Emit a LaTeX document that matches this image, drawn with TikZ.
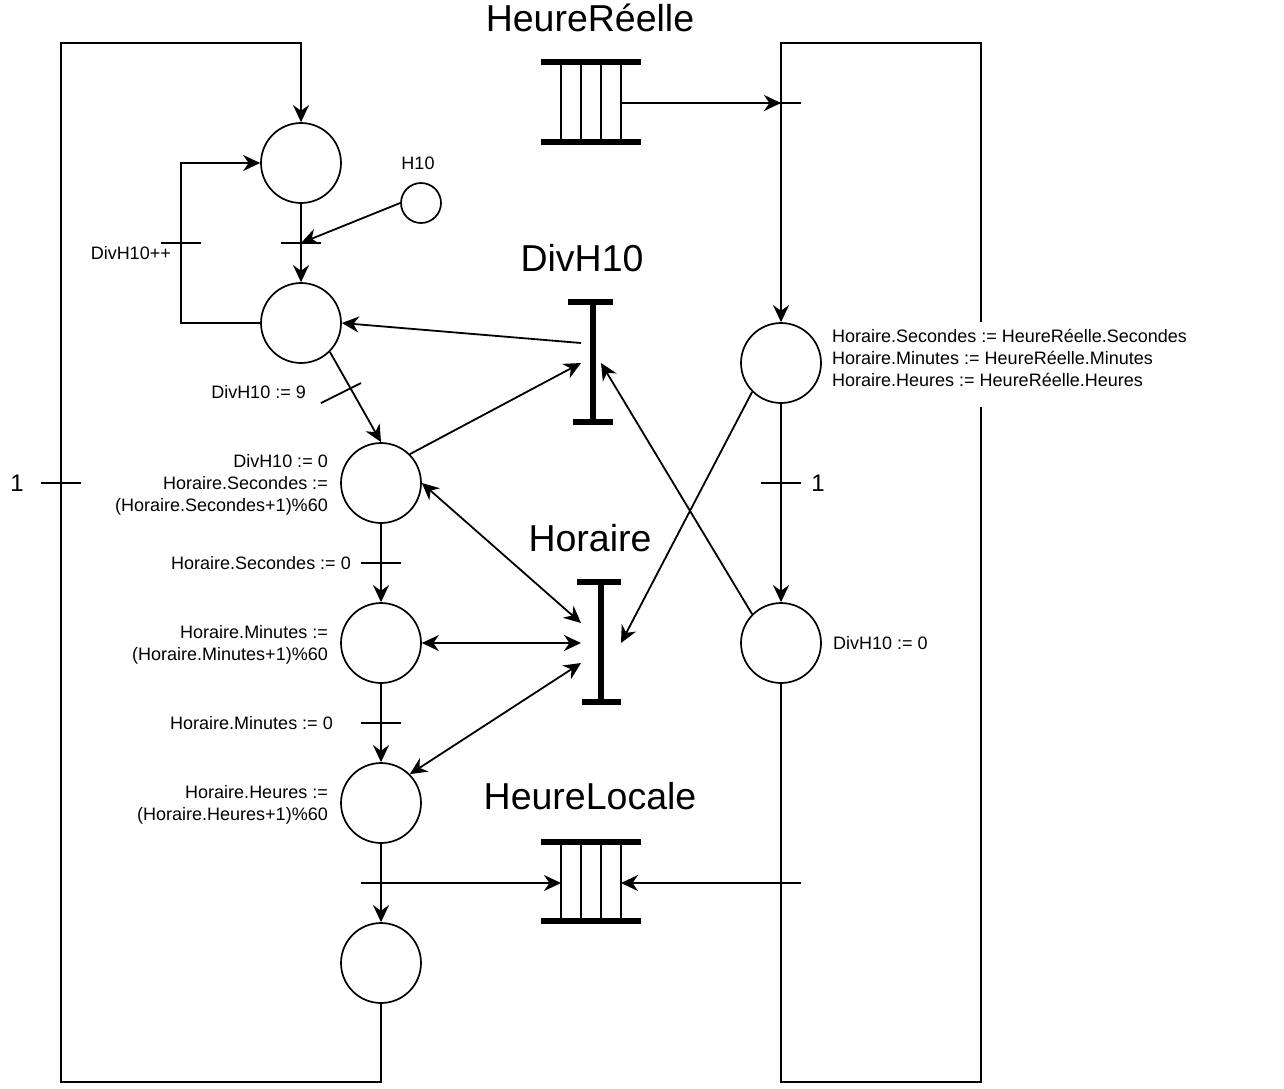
\documentclass[tikz,border=0pt]{standalone}
\usepackage{fontspec}
\setmainfont{Liberation Sans}
\usetikzlibrary{arrows.meta}
\begin{document}
\begin{tikzpicture}[x=1pt,y=-1pt,
  place/.style={circle, draw, line width=1.7pt, minimum size=80pt, inner sep=0pt},
  smallplace/.style={circle, draw, line width=1.7pt, minimum size=40pt, inner sep=0pt},
  ln/.style={line width=1.8pt},
  tip/.tip={Stealth[length=17pt,width=16pt,inset=5.5pt]},
  arr/.style={ln, -tip},
  barr/.style={ln, tip-tip},
  heavy/.style={line width=6pt, line cap=butt},
  lbl/.style={font=\fontsize{18}{22}\selectfont, inner sep=0pt},
  big/.style={font=\fontsize{24}{28}\selectfont, inner sep=0pt},
  title/.style={font=\fontsize{37.5}{45}\selectfont, inner sep=0pt, anchor=base}]
\useasboundingbox (0,0) rectangle (1284,1088);

% places
\node[place] (P1) at (301,163) {};
\node[place] (P2) at (301,323) {};
\node[place] (P3) at (381,483) {};
\node[place] (P4) at (381,643) {};
\node[place] (P5) at (381,803) {};
\node[place] (P6) at (381,963) {};
\node[place] (R1) at (781,363) {};
\node[place] (R2) at (781,643) {};
\node[smallplace] (H) at (421,203) {};

% transitions
\coordinate (T1) at (301,243);
\coordinate (Tinc) at (181,243);
\coordinate (T2a) at (321,403);
\coordinate (T2b) at (361,383);
\coordinate (T3) at (381,563);
\coordinate (T4) at (381,723);
\coordinate (T5) at (381,883);
\coordinate (TL) at (61,483);
\coordinate (TR1) at (781,483);
\coordinate (TRa) at (781,103);
\coordinate (TRb) at (781,883);

\foreach \t in {T1,Tinc,T3,T4,T5,TL,TR1,TRa,TRb}
  \draw[ln] (\t) ++(-20,0) -- ++(40,0);
\draw[ln] (T2a) -- (T2b);

% loop corners
\coordinate (LB1) at (381,1082);
\coordinate (LB2) at (61,1082);
\coordinate (LT1) at (61,43);
\coordinate (LT2) at (301,43);
\coordinate (RB1) at (781,1082);
\coordinate (RB2) at (981,1082);
\coordinate (RG1) at (981,407);
\coordinate (RG2) at (981,322);
\coordinate (RT1) at (981,43);
\coordinate (RT2) at (781,43);

% queues
\coordinate (QRout) at (621,103);
\coordinate (QLin) at (561,883);
\coordinate (QLout) at (621,883);
\draw[heavy] (541,62) -- (641,62);
\draw[heavy] (541,142) -- (641,142);
\foreach \x in {561,581,601,621} \draw[ln] (\x,62) -- (\x,142);
\draw[heavy] (541,842) -- (641,842);
\draw[heavy] (541,921) -- (641,921);
\foreach \x in {561,581,601,621} \draw[ln] (\x,842) -- (\x,921);

% resources
\draw[heavy] (593,302) -- (593,422);
\draw[heavy] (568,302) -- (613,302);
\draw[heavy] (573,422) -- (613,422);
\draw[heavy] (601,582) -- (601,702);
\draw[heavy] (577,582) -- (621,582);
\draw[heavy] (582,702) -- (621,702);
\coordinate (D1) at (581,343);
\coordinate (D2) at (581,363);
\coordinate (D3) at (601,363);
\coordinate (Hl1) at (581,623);
\coordinate (Hl2) at (581,643);
\coordinate (Hl3) at (581,663);
\coordinate (Hr1) at (621,643);

% arcs
\draw[arr] (P1) -- (P2);
\draw[arr] (H.west) -- (T1);
\draw[arr] (P2.west) -- (Tinc |- P2.west) -- (Tinc |- P1.west) -- (P1.west);
\draw[arr] (P2.-45) -- (P3.north);
\draw[arr] (P3) -- (P4);
\draw[arr] (P4) -- (P5);
\draw[arr] (P5) -- (P6);
\draw[arr] (T5) -- (QLin);
\draw[arr] (P6.south) -- (LB1) -- (LB2) -- (LT1) -- (LT2) -- (P1.north);
\draw[arr] (QRout) -- (TRa);
\draw[arr] (R1) -- (R2);
\draw[arr] (R2.south) -- (RB1) -- (RB2) -- (RG1) (RG2) -- (RT1) -- (RT2) -- (R1.north);
\draw[arr] (TRb) -- (QLout);

\draw[arr] (D1) -- (P2.east);
\draw[arr] (P3.45) -- (D2);
\draw[arr] (R2.135) -- (D3);
\draw[arr] (R1.225) -- (Hr1);
\draw[barr] (P3.east) -- (Hl1);
\draw[barr] (P4.east) -- (Hl2);
\draw[barr] (P5.45) -- (Hl3);

% titles
\node[title] (tHR) at (590,31) {HeureRéelle};
\node[title] (tDiv) at (582,271) {DivH10};
\node[title] (tHor) at (590,551) {Horaire};
\node[title] (tHL) at (590,809) {HeureLocale};

% labels
\node[lbl] (lH10) at (418,163) {H10};
\node[lbl, anchor=east] (lInc) at (171,253) {DivH10++};
\node[lbl, anchor=east] (l9) at (306,392) {DivH10 := 9};
\node[lbl, anchor=east, align=right] (lP3) at (328,485) {DivH10 := 0\\Horaire.Secondes :=\\(Horaire.Secondes+1)\%60};
\node[lbl, anchor=east] (lT3) at (351,563) {Horaire.Secondes := 0};
\node[lbl, anchor=east, align=right] (lP4) at (328,645) {Horaire.Minutes :=\\(Horaire.Minutes+1)\%60};
\node[lbl, anchor=east] (lT4) at (333,723) {Horaire.Minutes := 0};
\node[lbl, anchor=east, align=right] (lP5) at (328,805) {Horaire.Heures :=\\(Horaire.Heures+1)\%60};
\node[lbl, anchor=west, align=left] (lR1) at (832,358) {Horaire.Secondes := HeureRéelle.Secondes\\Horaire.Minutes := HeureRéelle.Minutes\\Horaire.Heures := HeureRéelle.Heures};
\node[lbl, anchor=west] (lR2) at (833,643) {DivH10 := 0};
\node[big] (l1a) at (17,483) {1};
\node[big] (l1b) at (818,483) {1};
\end{tikzpicture}
\end{document}
